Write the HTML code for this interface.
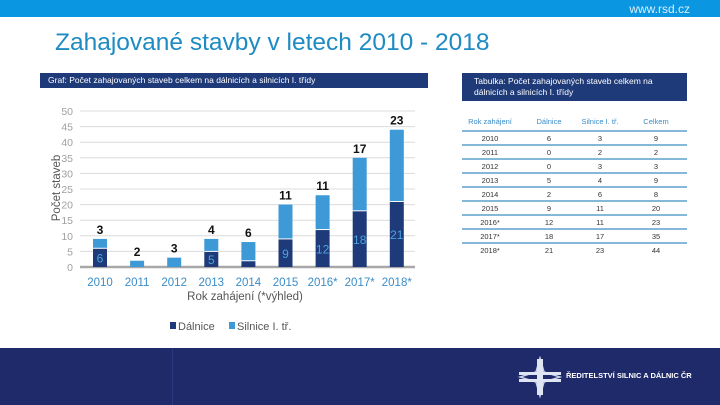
<!DOCTYPE html>
<html><head><meta charset="utf-8">
<style>
body{margin:0;width:720px;height:405px;overflow:hidden;background:#fff;font-family:"Liberation Sans",sans-serif;position:relative}
.abs{position:absolute}
</style></head><body>
<div class="abs" style="left:0;top:0;width:720px;height:17px;background:#0a96e0"></div>
<div class="abs" style="right:30px;top:2px;font-size:12px;color:#d8eefb">www.rsd.cz</div>
<div class="abs" style="left:55px;top:29px;font-size:24.5px;color:#1e8bc3">Zahajované stavby v letech 2010 - 2018</div>

<div class="abs" style="left:40px;top:73px;width:388px;height:15px;background:#1e3a78;color:#fff;font-size:8.5px;line-height:15px;padding-left:8px;box-sizing:border-box">Graf: Počet zahajovaných staveb celkem na dálnicích a silnicích I. třídy</div>
<div class="abs" style="left:462px;top:73px;width:225px;height:28px;background:#1e3a78;color:#fff;font-size:8.5px;line-height:11px;padding:3px 20px 0 12px;box-sizing:border-box">Tabulka: Počet zahajovaných staveb celkem na dálnicích a silnicích I. třídy</div>

<svg class="abs" style="left:0;top:0" width="720" height="345" id="chart"></svg>

<div class="abs" style="left:0;top:348px;width:720px;height:57px;background:#1f2a6b"></div>
<div class="abs" style="left:172px;top:348px;width:1px;height:57px;background:#2a3880"></div>
<svg class="abs" style="left:518px;top:356px" width="44" height="42">
<path d="M22 2 L26 16 L42 21 L26 26 L22 40 L18 26 L2 21 L18 16 Z" fill="none" stroke="#c8d0e8" stroke-width="1.5"/>
<rect x="19" y="3" width="6" height="36" fill="#dfe4f2"/>
<rect x="1" y="16" width="42" height="3" fill="#dfe4f2"/><rect x="1" y="23" width="42" height="3" fill="#dfe4f2"/>
</svg>
<div class="abs" style="left:566px;top:371px;font-size:7.5px;font-weight:bold;color:#fff">ŘEDITELSTVÍ SILNIC A DÁLNIC ČR</div>

<script>
const years=["2010","2011","2012","2013","2014","2015","2016*","2017*","2018*"];
const dalnice=[6,0,0,5,2,9,12,18,21];
const silnice=[3,2,3,4,6,11,11,17,23];
const yTicks=[0,5,10,15,20,25,30,35,40,45,50];
const NS="http://www.w3.org/2000/svg";
const svg=document.getElementById('chart');
const y0=267,y50=111;
const yS=v=>y0-(y0-y50)*v/50;
const xS=i=>100+i*37.1;
function mk(t,a,txt){const e=document.createElementNS(NS,t);for(const k in a)e.setAttribute(k,a[k]);if(txt!==undefined)e.textContent=txt;svg.appendChild(e);return e;}
yTicks.forEach(v=>{
 const l=mk('line',{x1:80,x2:415,y1:yS(v),y2:yS(v),stroke:'#dcdcdc','stroke-width':1});
 
 
 const t=mk('text',{x:73,y:yS(v)+4,'text-anchor':'end','font-size':10.5,fill:'#a0a0a0'},v);
 
 
});
const ax=mk('line',{x1:80,x2:415,y1:y0,y2:y0,stroke:'#a8a8a8','stroke-width':2.5});


const bw=14;
years.forEach((yr,i)=>{
 const cx=xS(i),d=dalnice[i],s=silnice[i];
 const b1=mk('rect',{x:cx-bw/2,y:yS(d),width:bw,height:y0-yS(d),fill:'#1e3a78'});
 
 
 const b2=mk('rect',{x:cx-bw/2,y:yS(d+s),width:bw,height:yS(d)-yS(d+s),fill:'#3d9ad6'});
 
 
 if(d>0){
  const sep=mk('line',{x1:cx-bw/2,x2:cx+bw/2,y1:yS(d),y2:yS(d),stroke:'#fff','stroke-width':1});
  
  
 }
 if(d>=5){
  const dl=mk('text',{x:cx,y:yS(d/2)+5,'text-anchor':'middle','font-size':12,fill:'#4aa3e0'},d);
  
  
 }
 const sl=mk('text',{x:cx,y:yS(d+s)-5,'text-anchor':'middle','font-size':12,'font-weight':'bold',fill:'#111'},s);
 
 
 const xl=mk('text',{x:cx,y:286,'text-anchor':'middle','font-size':11.5,fill:'#3a8cc8'},yr);
 
 
});
const xt=mk('text',{x:245,y:300,'text-anchor':'middle','font-size':11.5,fill:'#555'},'Rok zahájení (*výhled)');


const yt=mk('text',{x:0,y:0,'text-anchor':'middle','font-size':11.5,fill:'#555',transform:'translate(60,188) rotate(-90)'},'Počet staveb');


const lg1=mk('rect',{x:170,y:322,width:6,height:7,fill:'#1e3a78'});


const lt1=mk('text',{x:178,y:330,'font-size':11,fill:'#555'},'Dálnice');


const lg2=mk('rect',{x:229,y:322,width:6,height:7,fill:'#3d9ad6'});


const lt2=mk('text',{x:237,y:330,'font-size':11,fill:'#555'},'Silnice I. tř.');



// table
const cols=[490,549,600,656];
const heads=["Rok zahájení","Dálnice","Silnice I. tř.","Celkem"];
heads.forEach((h,j)=>{
 const t=mk('text',{x:cols[j],y:124,'text-anchor':'middle','font-size':7.5,fill:'#3a8cc8'},h);
 
 
});
years.forEach((yr,i)=>{
 const ly=131+i*14;
 const l=mk('line',{x1:462,x2:687,y1:ly,y2:ly,stroke:'#5aa0cc','stroke-width':1.5});
 
 
 [yr,dalnice[i],silnice[i],dalnice[i]+silnice[i]].forEach((v,j)=>{
  const t=mk('text',{x:cols[j],y:ly+10,'text-anchor':'middle','font-size':7.5,fill:'#333'},v);
  
  
 });
});
</script>
</body></html>
